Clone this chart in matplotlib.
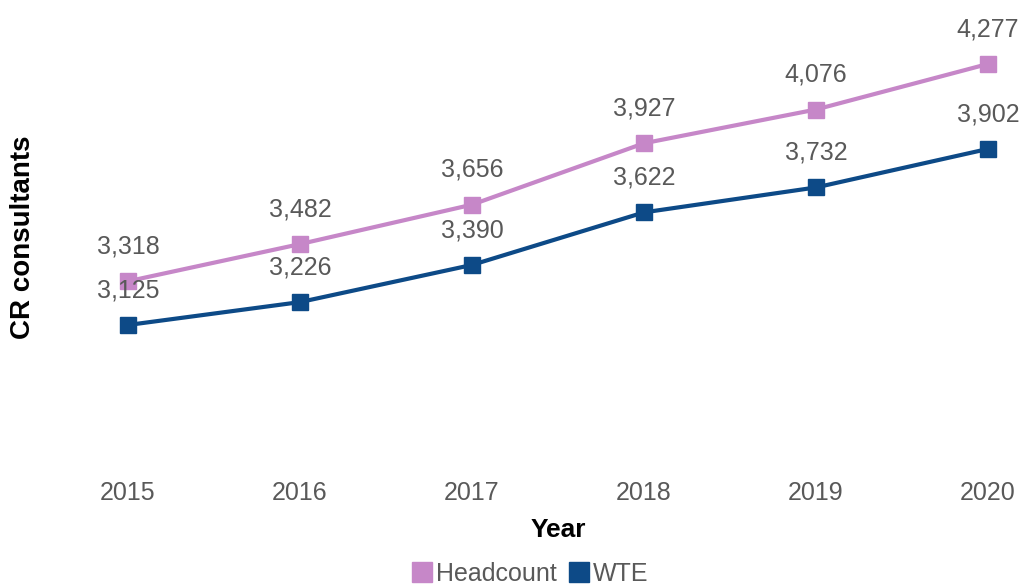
import matplotlib.pyplot as plt
from matplotlib.lines import Line2D

plt.rcParams['font.family'] = ['Liberation Sans', 'DejaVu Sans']

years = [2015, 2016, 2017, 2018, 2019, 2020]
headcount = [3318, 3482, 3656, 3927, 4076, 4277]
wte = [3125, 3226, 3390, 3622, 3732, 3902]

pink = '#C687C8'
navy = '#0D4A87'
grey = '#595959'

fig = plt.figure(figsize=(10.26, 5.87), dpi=100)
W, H = 1026, 587
# axes placed in pixel terms: 2015 at x=128, 2020 at x=988; bottom at y=470, top at y=20
ax = fig.add_axes([128 / W, (H - 470) / H, (988 - 128) / W, (470 - 20) / H])
ax.set_xlim(2015, 2020)
ax.set_ylim(2485, 4471)

for vals, col in [(headcount, pink), (wte, navy)]:
    ax.plot(years, vals, color=col, lw=3, marker='s', ms=11, clip_on=False, zorder=3)
    for x, v in zip(years, vals):
        ax.annotate(f'{v:,}', (x, v), xytext=(0, 25), textcoords='offset points',
                    ha='center', va='center', fontsize=18, color=grey)

for s in ax.spines.values():
    s.set_visible(False)
ax.set_yticks([])
ax.set_xticks(years)
ax.tick_params(axis='x', length=0, pad=8, labelsize=18, labelcolor=grey)
ax.set_xlabel('Year', fontsize=19, fontweight='bold', labelpad=9)

fig.text(23 / W, 1 - 237 / H, 'CR consultants', rotation=90, ha='center', va='center',
         fontsize=20, fontweight='bold')

handles = [Line2D([], [], ls='none', marker='s', ms=14, color=pink),
           Line2D([], [], ls='none', marker='s', ms=14, color=navy)]
fig.legend(handles, ['Headcount', 'WTE'], loc='center', bbox_to_anchor=(530 / W, 1 - 574 / H),
           ncol=2, frameon=False, fontsize=18, handletextpad=0.15, columnspacing=0.5,
           handlelength=0.8, labelcolor=grey, borderpad=0)

fig.savefig('out.png', dpi=100)
